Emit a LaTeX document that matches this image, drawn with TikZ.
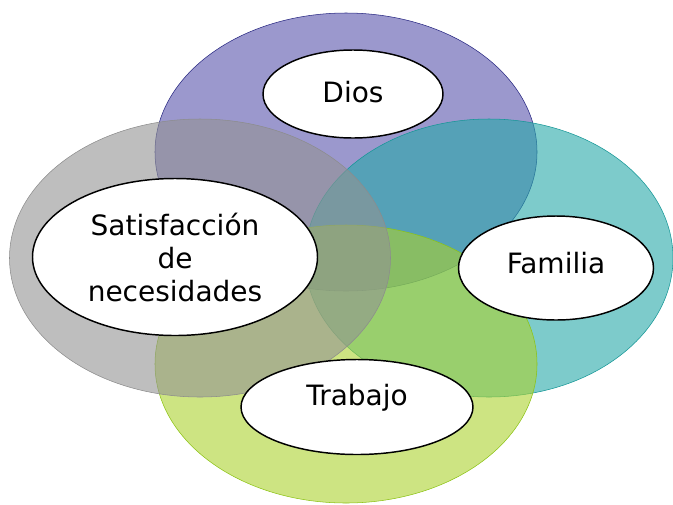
\documentclass[tikz,border=0pt]{standalone}
\usepackage{fontspec}
\setmainfont{DejaVu Sans}
\usetikzlibrary{shapes.geometric}

\definecolor{diosfill}{RGB}{88,83,172}
\definecolor{diosline}{RGB}{40,40,130}
\definecolor{famfill}{RGB}{38,168,168}
\definecolor{famline}{RGB}{20,150,150}
\definecolor{trabfill}{RGB}{172,210,47}
\definecolor{trabline}{RGB}{140,195,20}
\definecolor{satfill}{RGB}{147,147,147}
\definecolor{satline}{RGB}{140,140,140}

\begin{document}
\begin{tikzpicture}[
    x=0.75pt, y=-0.75pt,
    big/.style={ellipse, inner sep=0pt, minimum height=208.5pt, fill opacity=0.6, draw opacity=1},
    small/.style={ellipse, draw=black, line width=1.1pt, fill=white, inner sep=0pt, align=center,
        font=\fontsize{21}{24.75}\selectfont}]

\useasboundingbox (0,0) rectangle (673,504);

% the four big circles
\node[big, minimum width=286.5pt, fill=diosfill, draw=diosline] (cdios) at (346,152) {};
\node[big, minimum width=276pt, fill=famfill, draw=famline] (cfamilia) at (489,258) {};
\node[big, minimum width=286.5pt, fill=trabfill, draw=trabline] (ctrabajo) at (346,364) {};
\node[big, minimum width=285.75pt, fill=satfill, draw=satline] (csatis) at (200,258) {};

% the labels
\node[small, minimum width=135pt, minimum height=66pt] (dios) at (353,94) {\raisebox{3pt}{Dios}};
\node[small, minimum width=213.75pt, minimum height=117.75pt] (satis) at (175,257)
    {Satisfacción\\de\\necesidades};
\node[small, minimum width=146.25pt, minimum height=78pt] (familia) at (556,268) {\raisebox{7.5pt}{Familia}};
\node[small, minimum width=174pt, minimum height=71.25pt] (trabajo) at (357,407) {\raisebox{18pt}{Trabajo}};
\end{tikzpicture}
\end{document}
